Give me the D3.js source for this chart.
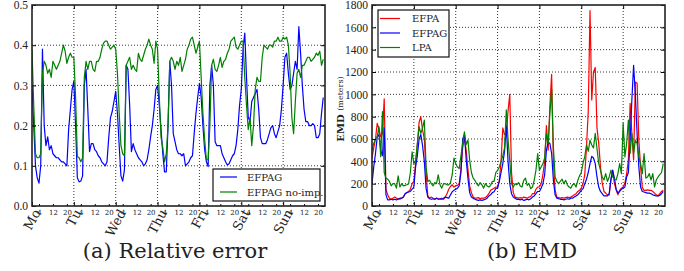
<!DOCTYPE html>
<html>
<head>
<meta charset="utf-8">
<script src="https://cdn.jsdelivr.net/npm/d3@7"></script>
<style>
  body { margin: 0; background: #fff; }
  text { font-family: "DejaVu Serif", serif; }
</style>
</head>
<body>
<svg id="chart" width="684" height="271"></svg>
<script>
// tick labels
var days = ["Mo", "Tu", "Wed", "Thu", "Fri", "Sat", "Sun"];
var hourTicks = [4, 12, 20];
var relTicks = [0, 0.1, 0.2, 0.3, 0.4, 0.5];
var emdTicks = [0, 200, 400, 600, 800, 1000, 1200, 1400, 1600, 1800];

// (a) relative error, hourly, Mon 0h .. Sun 23h
var relEfpag = [
  0.3, 0.2, 0.1, 0.07, 0.057, 0.1, 0.39, 0.2, 0.15, 0.172, 0.14, 0.15, 0.13, 0.125, 0.12, 0.12, 0.115, 0.11, 0.11, 0.105, 0.1, 0.19, 0.24, 0.29,
  0.31, 0.2, 0.07, 0.06, 0.062, 0.075, 0.3, 0.34, 0.24, 0.135, 0.155, 0.155, 0.14, 0.135, 0.125, 0.12, 0.11, 0.105, 0.1, 0.11, 0.17, 0.22, 0.235, 0.26,
  0.285, 0.23, 0.15, 0.075, 0.062, 0.09, 0.35, 0.34, 0.25, 0.135, 0.155, 0.14, 0.13, 0.12, 0.115, 0.11, 0.1, 0.105, 0.115, 0.14, 0.172, 0.2, 0.24, 0.29,
  0.3, 0.25, 0.19, 0.13, 0.085, 0.085, 0.2, 0.36, 0.3, 0.18, 0.16, 0.14, 0.13, 0.13, 0.125, 0.13, 0.1, 0.105, 0.11, 0.12, 0.125, 0.18, 0.23, 0.27,
  0.305, 0.27, 0.2, 0.14, 0.11, 0.098, 0.3, 0.35, 0.3, 0.16, 0.15, 0.15, 0.15, 0.13, 0.12, 0.11, 0.102, 0.105, 0.115, 0.125, 0.13, 0.15, 0.19, 0.25,
  0.29, 0.39, 0.43, 0.32, 0.22, 0.21, 0.26, 0.27, 0.28, 0.29, 0.24, 0.17, 0.155, 0.155, 0.155, 0.165, 0.18, 0.195, 0.2, 0.18, 0.17, 0.185, 0.2, 0.24,
  0.3, 0.37, 0.38, 0.33, 0.29, 0.3, 0.33, 0.36, 0.34, 0.446, 0.38, 0.3, 0.24, 0.21, 0.21, 0.2, 0.2, 0.205, 0.2, 0.17, 0.17, 0.18, 0.23, 0.27
];
var relNoImp = [
  0.39, 0.25, 0.13, 0.12, 0.12, 0.13, 0.33, 0.36, 0.35, 0.33, 0.34, 0.32, 0.36, 0.35, 0.34, 0.35, 0.36, 0.38, 0.40, 0.385, 0.355, 0.37, 0.38, 0.37,
  0.37, 0.27, 0.123, 0.12, 0.11, 0.12, 0.32, 0.36, 0.34, 0.36, 0.36, 0.34, 0.335, 0.36, 0.36, 0.37, 0.39, 0.405, 0.41, 0.41, 0.40, 0.39, 0.395, 0.40,
  0.39, 0.33, 0.23, 0.15, 0.13, 0.125, 0.35, 0.36, 0.37, 0.34, 0.35, 0.34, 0.335, 0.38, 0.365, 0.36, 0.375, 0.39, 0.40, 0.415, 0.40, 0.39, 0.355, 0.41,
  0.39, 0.27, 0.17, 0.145, 0.11, 0.13, 0.2, 0.36, 0.37, 0.36, 0.34, 0.36, 0.35, 0.37, 0.335, 0.35, 0.365, 0.39, 0.40, 0.415, 0.42, 0.40, 0.38, 0.395,
  0.41, 0.32, 0.23, 0.165, 0.115, 0.115, 0.2, 0.35, 0.365, 0.34, 0.335, 0.35, 0.37, 0.345, 0.36, 0.365, 0.38, 0.39, 0.41, 0.415, 0.42, 0.395, 0.39, 0.40,
  0.41, 0.41, 0.32, 0.25, 0.19, 0.22, 0.15, 0.2, 0.29, 0.32, 0.31, 0.31, 0.37, 0.40, 0.395, 0.39, 0.40, 0.40, 0.395, 0.41, 0.41, 0.42, 0.41, 0.41,
  0.42, 0.415, 0.42, 0.40, 0.33, 0.22, 0.18, 0.26, 0.33, 0.34, 0.32, 0.35, 0.35, 0.36, 0.37, 0.37, 0.36, 0.365, 0.37, 0.38, 0.375, 0.385, 0.35, 0.365
];

// (b) EMD in meters, hourly
var emdEfpa = [
  430, 520, 600, 740, 690, 620, 650, 960, 150, 100, 70, 60, 70, 80, 70, 65, 60, 70, 80, 110, 120, 130, 150, 200,
  220, 380, 550, 750, 800, 680, 600, 310, 90, 70, 80, 70, 60, 70, 65, 60, 70, 60, 80, 110, 150, 175, 190, 170,
  180, 185, 200, 330, 520, 610, 500, 330, 180, 120, 80, 70, 70, 75, 65, 70, 70, 75, 90, 110, 140, 150, 160, 170,
  170, 230, 400, 700, 640, 650, 850, 1000, 300, 120, 80, 75, 70, 75, 70, 80, 75, 70, 80, 85, 110, 110, 150, 170,
  170, 200, 280, 400, 720, 500, 900, 1180, 400, 140, 80, 75, 70, 75, 70, 75, 80, 75, 80, 90, 100, 110, 130, 140,
  160, 200, 280, 530, 850, 1750, 950, 1200, 1240, 700, 563, 350, 205, 130, 116, 100, 100, 233, 322, 200, 143, 100, 140, 160,
  170, 205, 290, 412, 920, 650, 412, 1110, 1100, 590, 350, 165, 140, 140, 145, 140, 140, 130, 115, 100, 90, 110, 130, 140
];
var emdEfpag = [
  200, 350, 470, 620, 640, 500, 450, 700, 100, 55, 55, 60, 55, 60, 55, 60, 70, 70, 80, 110, 120, 125, 130, 150,
  170, 350, 450, 600, 640, 540, 400, 160, 80, 65, 60, 65, 60, 70, 60, 65, 60, 70, 80, 75, 70, 100, 128, 140,
  150, 160, 180, 300, 600, 640, 420, 250, 120, 80, 70, 60, 55, 50, 55, 50, 55, 60, 70, 90, 100, 120, 128, 157,
  160, 220, 300, 380, 490, 720, 400, 200, 110, 80, 70, 60, 60, 55, 60, 50, 55, 60, 55, 65, 80, 90, 110, 130,
  130, 160, 200, 280, 500, 570, 560, 470, 230, 100, 70, 65, 60, 60, 55, 60, 65, 60, 70, 70, 80, 90, 100, 120,
  140, 155, 200, 240, 300, 380, 445, 430, 380, 260, 170, 130, 110, 90, 90, 90, 110, 240, 320, 250, 150, 116, 130, 150,
  160, 170, 260, 300, 590, 950, 1260, 1000, 650, 350, 170, 130, 125, 120, 115, 115, 110, 100, 95, 90, 90, 95, 110, 130
];
var emdLpa = [
  500, 560, 600, 620, 710, 441, 845, 300, 250, 240, 220, 180, 200, 200, 160, 270, 170, 200, 180, 185, 190, 200, 300, 486,
  380, 400, 560, 710, 650, 700, 770, 350, 220, 230, 200, 180, 210, 200, 280, 190, 160, 200, 200, 190, 190, 210, 280, 430,
  380, 350, 335, 450, 560, 665, 550, 590, 412, 300, 250, 230, 200, 180, 210, 190, 160, 200, 180, 170, 185, 220, 220, 300,
  320, 350, 400, 450, 520, 860, 600, 400, 200, 170, 200, 190, 210, 180, 170, 230, 250, 185, 200, 155, 170, 230, 320, 470,
  320, 350, 380, 430, 650, 560, 830, 1050, 530, 260, 220, 200, 220, 240, 200, 230, 190, 170, 160, 190, 200, 170, 230, 270,
  300, 384, 442, 546, 490, 590, 546, 520, 650, 515, 380, 322, 260, 233, 290, 220, 260, 322, 260, 240, 233, 290, 380, 290,
  743, 440, 560, 770, 470, 650, 470, 590, 560, 440, 380, 290, 470, 250, 260, 290, 233, 290, 170, 233, 260, 280, 300, 380
];

var svg = d3.select("#chart");
var plotTop = 5, plotBottom = 206;

function panel(opt) {
    var x = d3.scaleLinear().domain([0, 168]).range([opt.x0, opt.x1]);
    var y = d3.scaleLinear().domain([0, opt.yMax]).range([plotBottom, plotTop]);
    var g = svg.append("g");
    var dayHours = days.map(function(d, i) { return i * 24; });
    var hours = [];
    dayHours.forEach(function(h) { hourTicks.forEach(function(t) { hours.push(h + t); }); });

    // grid
    g.append("g").selectAll("line").data(opt.ticks.slice(1, -1)).join("line")
        .attr("x1", opt.x0).attr("x2", opt.x1)
        .attr("y1", d => y(d)).attr("y2", d => y(d))
        .attr("stroke", "#000").attr("stroke-width", 0.8).attr("stroke-dasharray", "1,2");
    g.append("g").selectAll("line").data(dayHours.slice(1)).join("line")
        .attr("x1", d => x(d)).attr("x2", d => x(d))
        .attr("y1", plotTop).attr("y2", plotBottom)
        .attr("stroke", "#000").attr("stroke-width", 0.8).attr("stroke-dasharray", "1,2");

    // series
    var clipId = "clip" + opt.x0;
    svg.append("clipPath").attr("id", clipId).append("rect")
        .attr("x", opt.x0).attr("y", plotTop).attr("width", opt.x1 - opt.x0).attr("height", plotBottom - plotTop);
    var line = d3.line().x((d, i) => x(i)).y(d => y(d));
    opt.series.forEach(function(s) {
        g.append("path").datum(s.values)
            .attr("clip-path", "url(#" + clipId + ")")
            .attr("fill", "none").attr("stroke", s.color).attr("stroke-width", 1.2)
            .attr("stroke-linejoin", "round")
            .attr("d", line);
    });

    // y axis (ticks inward)
    var ya = g.append("g").attr("transform", "translate(" + opt.x0 + ",0)")
        .call(d3.axisLeft(y).tickValues(opt.ticks).tickFormat(opt.fmt).tickSize(-4).tickPadding(4));
    ya.select(".domain").remove();
    ya.selectAll("text").style("font-family", "Liberation Serif").style("font-size", "11.5px").attr("fill", "#222");
    var yr = g.append("g").attr("transform", "translate(" + opt.x1 + ",0)")
        .call(d3.axisRight(y).tickValues(opt.ticks).tickFormat("").tickSize(-4));
    yr.select(".domain").remove();

    // x axis: day ticks and hour ticks
    var xa = g.append("g").attr("transform", "translate(0," + plotBottom + ")")
        .call(d3.axisBottom(x).tickValues(dayHours).tickFormat("").tickSize(-4));
    xa.select(".domain").remove();
    var xt = g.append("g").attr("transform", "translate(0," + plotTop + ")")
        .call(d3.axisTop(x).tickValues(dayHours).tickFormat("").tickSize(-4));
    xt.select(".domain").remove();
    var xh = g.append("g").attr("transform", "translate(0," + plotBottom + ")")
        .call(d3.axisBottom(x).tickValues(hours).tickFormat(d => d % 24).tickSize(-2).tickPadding(4));
    xh.select(".domain").remove();
    xh.selectAll("text").style("font-family", "DejaVu Serif").style("font-size", "7px").attr("fill", "#222");

    // rotated day labels, centred on the tick
    g.append("g").selectAll("text").data(days).join("text")
        .style("font-size", "13px").attr("fill", "#222")
        .text(d => d)
        .each(function(d, i) {
            var L = this.getComputedTextLength();
            var a = 62 * Math.PI / 180;
            var half = (L / 2) * Math.sin(a) + 5 * Math.cos(a);
            d3.select(this)
                .attr("text-anchor", "middle")
                .attr("dominant-baseline", "central")
                .attr("transform", "translate(" + x(i * 24) + "," + (plotBottom + 2 + half) + ") rotate(-62)");
        });

    // frame
    g.append("rect").attr("x", opt.x0).attr("y", plotTop)
        .attr("width", opt.x1 - opt.x0).attr("height", plotBottom - plotTop)
        .attr("fill", "none").attr("stroke", "#222").attr("stroke-width", 1.6);

    // legend
    var lg = g.append("g");
    lg.append("rect").attr("x", opt.legend.x).attr("y", opt.legend.y)
        .attr("width", opt.legend.w).attr("height", opt.legend.h)
        .attr("fill", "#fff").attr("stroke", "#111").attr("stroke-width", 1.2);
    opt.series.forEach(function(s, i) {
        var yy = opt.legend.y + opt.legend.first + i * opt.legend.step;
        lg.append("line").attr("x1", opt.legend.x + opt.legend.l0).attr("x2", opt.legend.x + opt.legend.l1)
            .attr("y1", yy).attr("y2", yy).attr("stroke", s.color).attr("stroke-width", 1.2);
        lg.append("text").attr("x", opt.legend.x + opt.legend.tx).attr("y", yy)
            .attr("dominant-baseline", "central").style("font-size", "10px").attr("fill", "#222")
            .text(s.name);
    });

    // caption
    svg.append("text").attr("x", opt.capX).attr("y", 258).attr("text-anchor", "middle")
        .style("font-size", "21px").attr("fill", "#222").text(opt.caption);
    return { x: x, y: y };
}

panel({
    x0: 32, x1: 325, yMax: 0.5, ticks: relTicks, fmt: d3.format(".1f"),
    series: [
        { name: "EFPAG", values: relEfpag, color: "#0000ff" },
        { name: "EFPAG no-imp.", values: relNoImp, color: "#008000" }
    ],
    legend: { x: 213, y: 169, w: 107, h: 32, first: 8, step: 15, l0: 7, l1: 24, tx: 34 },
    capX: 175, caption: "(a) Relative error"
});

panel({
    x0: 372, x1: 665, yMax: 1800, ticks: emdTicks, fmt: d3.format("d"),
    series: [
        { name: "EFPA", values: emdEfpa, color: "#ff0000" },
        { name: "EFPAG", values: emdEfpag, color: "#0000ff" },
        { name: "LPA", values: emdLpa, color: "#008000" }
    ],
    legend: { x: 378, y: 10, w: 71, h: 47, first: 8.5, step: 14.5, l0: 2, l1: 22, tx: 34 },
    capX: 532, caption: "(b) EMD"
});

// y label of panel (b)
var yl = svg.append("text")
    .attr("transform", "translate(340,109) rotate(-90)")
    .attr("text-anchor", "middle").attr("dominant-baseline", "central").attr("fill", "#222");
yl.append("tspan").style("font-size", "10px").style("font-weight", "bold").text("EMD ");
yl.append("tspan").style("font-size", "8px").text("(meters)");
</script>
</body>
</html>
